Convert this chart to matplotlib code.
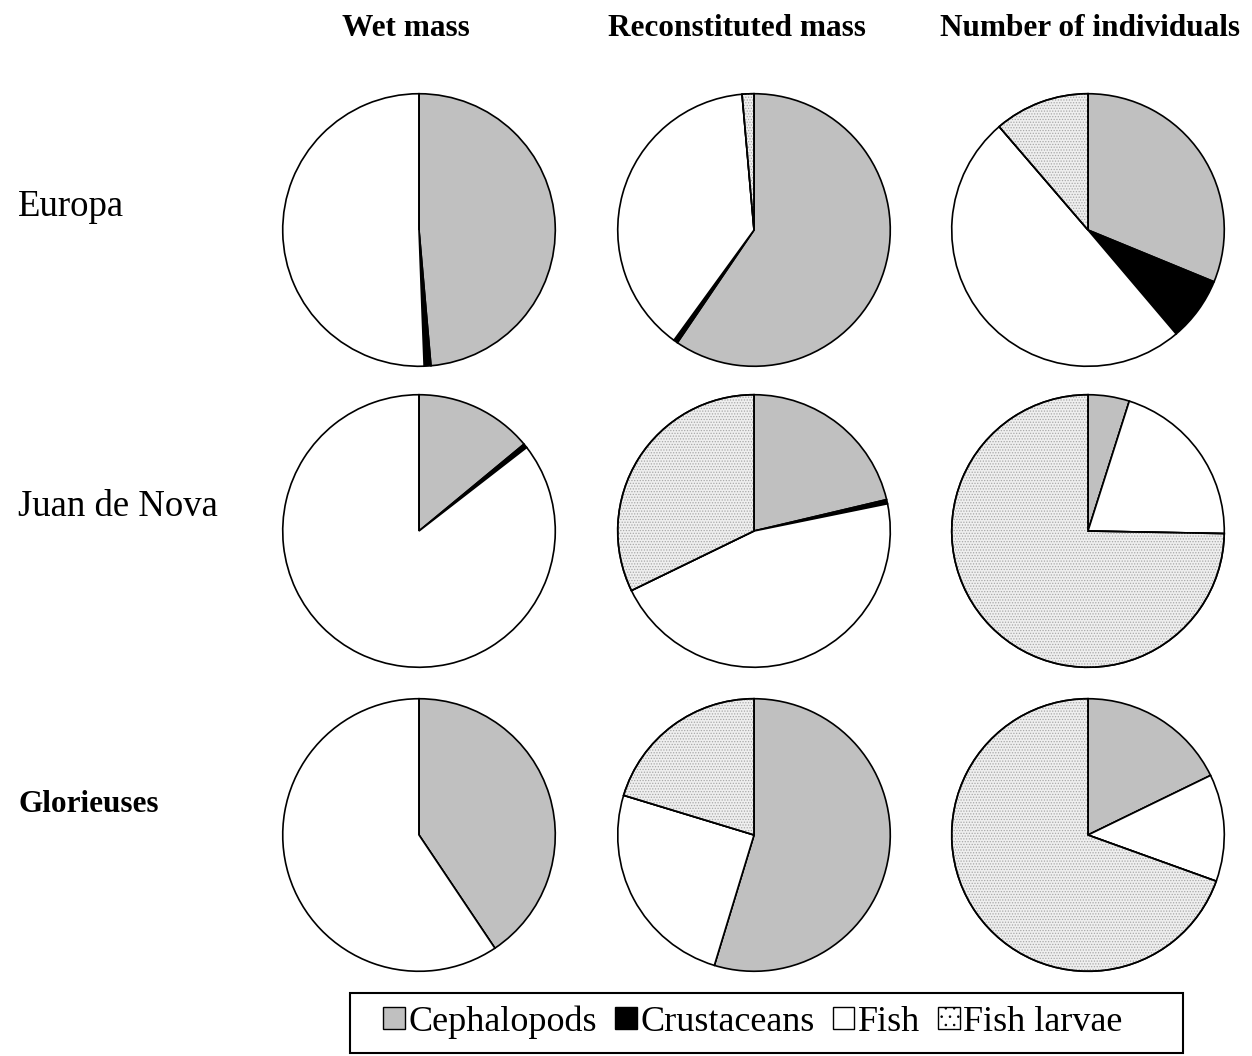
import matplotlib.pyplot as plt
from matplotlib.patches import Patch, Rectangle, Wedge

# diet composition (%) per site and metric, clockwise from 12 o'clock
categories = ["Cephalopods", "Crustaceans", "Fish", "Fish larvae"]
sites = ["Europa", "Juan de Nova", "Glorieuses"]
metrics = ["Wet mass", "Reconstituted mass", "Number of individuals"]

europa_wet = [48.6, 0.8, 50.6, 0.0]
europa_recon = [59.5, 0.5, 38.6, 1.4]
europa_number = [31.2, 7.6, 49.9, 11.3]

juan_wet = [14.0, 0.5, 85.5, 0.0]
juan_recon = [21.3, 0.5, 46.0, 32.2]
juan_number = [4.9, 0.0, 20.4, 74.7]

glorieuses_wet = [40.6, 0.0, 59.4, 0.0]
glorieuses_recon = [54.7, 0.0, 25.0, 20.3]
glorieuses_number = [17.8, 0.0, 12.7, 69.5]

values = [
    [europa_wet, europa_recon, europa_number],
    [juan_wet, juan_recon, juan_number],
    [glorieuses_wet, glorieuses_recon, glorieuses_number],
]

colors = ["#c0c0c0", "black", "white", "#efefef"]
LARVAE_DOTS = "#a8a8a8"

W, H = 1252, 1056
col_x = [419, 754, 1088]
row_y = [230, 531, 835]
R = 139

plt.rcParams["font.family"] = ["Liberation Serif", "DejaVu Serif"]
plt.rcParams["hatch.linewidth"] = 0.6

fig = plt.figure(figsize=(W / 100, H / 100), dpi=100)

for i, row in enumerate(values):
    for j, vals in enumerate(row):
        ax = fig.add_axes([(col_x[j] - R) / W, 1 - (row_y[i] + R) / H,
                           2 * R / W, 2 * R / H])
        wedges, _ = ax.pie(vals, colors=colors, startangle=90, counterclock=False,
                           radius=1.0,
                           wedgeprops=dict(edgecolor="black", linewidth=1.2))
        # stipple for fish larvae, drawn under the outlines
        lw = wedges[3]
        if vals[3] > 0:
            dots = Wedge(lw.center, lw.r, lw.theta1, lw.theta2, facecolor="none",
                         edgecolor=LARVAE_DOTS, hatch="......", linewidth=0,
                         zorder=lw.get_zorder() + 0.5)
            ax.add_patch(dots)
            outline = Wedge(lw.center, lw.r, lw.theta1, lw.theta2, facecolor="none",
                            edgecolor="black", linewidth=1.2,
                            zorder=lw.get_zorder() + 0.6)
            ax.add_patch(outline)
        ax.set_xlim(-1.02, 1.02)
        ax.set_ylim(-1.02, 1.02)
        ax.set_aspect("equal")
        ax.axis("off")

header_x = [406, 737, 1090]
for x, name in zip(header_x, metrics):
    fig.text(x / W, 1 - 28 / H, name, ha="center", va="center",
             fontsize=22.5, fontweight="bold")

fig.text(18 / W, 1 - 207 / H, sites[0], ha="left", va="center", fontsize=26.5)
fig.text(18 / W, 1 - 507 / H, sites[1], ha="left", va="center", fontsize=26.5)
fig.text(18 / W, 1 - 804 / H, sites[2], ha="left", va="center", fontsize=22.5,
         fontweight="bold")

handles = [
    Patch(facecolor=colors[0], edgecolor="black", linewidth=1.0),
    Patch(facecolor=colors[1], edgecolor="black", linewidth=1.0),
    Patch(facecolor=colors[2], edgecolor="black", linewidth=1.0),
    Patch(facecolor="white", edgecolor="black", linewidth=1.0, hatch=".."),
]
fig.legend(handles, categories, loc="center", bbox_to_anchor=(753 / W, 1 - 1022 / H),
           ncol=4, fontsize=26, frameon=False,
           handlelength=0.6, handleheight=0.6, handletextpad=0.1,
           columnspacing=0.5, borderpad=0.2, borderaxespad=0)

# box around the legend
fig.patches.append(Rectangle((350 / W, 1 - 1053 / H), 833 / W, 60 / H,
                             transform=fig.transFigure, facecolor="none",
                             edgecolor="black", linewidth=1.5))

fig.savefig("out.png", dpi=100, facecolor="white")
